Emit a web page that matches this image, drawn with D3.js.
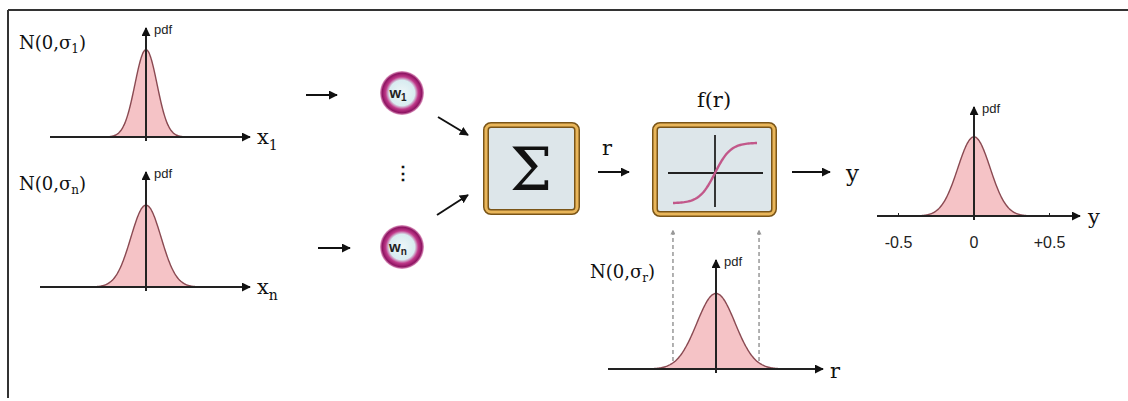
<!DOCTYPE html>
<html>
<head>
<meta charset="utf-8">
<script src="https://cdn.jsdelivr.net/npm/d3@7"></script>
<style>
  body { margin: 0; background: #fff; }
  svg { display: block; }
  .serif { font-family: "DejaVu Serif", "Liberation Serif", serif; fill: #111; }
  .sans { font-family: "Liberation Sans", Arial, sans-serif; fill: #222; }
</style>
</head>
<body>
<div id="chart"></div>
<script>
// the four distributions, in the order: x1, xn, r, y
var plotNames = ["x1", "xn", "r", "y"];
var sigmas = [0.073, 0.10, 0.127, 0.107];
var peaks = [0.97, 0.91, 0.84, 0.88];
var axisLabels = ["x", "x", "r", "y"];
var axisSubs = ["1", "n", "", ""];
var distLabels = ["N(0,σ", "N(0,σ", "N(0,σ", ""];
var distSubs = ["1", "n", "r", ""];
var tickValues = [-0.5, 0, 0.5];
var tickLabels = ["-0.5", "0", "+0.5"];
var weightSubs = ["1", "n"];

(function() {
  var W = 1128, H = 401;
  var svg = d3.select('#chart').append('svg').attr('width', W).attr('height', H);

  var defs = svg.append('defs');
  defs.append('marker').attr('id', 'arr').attr('viewBox', '0 0 10 10').attr('refX', 9).attr('refY', 5)
    .attr('markerWidth', 9).attr('markerHeight', 9).attr('markerUnits', 'userSpaceOnUse').attr('orient', 'auto')
    .append('path').attr('d', 'M0,0L10,5L0,10z').attr('fill', '#111');
  defs.append('marker').attr('id', 'arrs').attr('viewBox', '0 0 10 10').attr('refX', 9).attr('refY', 5)
    .attr('markerWidth', 5).attr('markerHeight', 5).attr('markerUnits', 'userSpaceOnUse').attr('orient', 'auto')
    .append('path').attr('d', 'M0,0L10,5L0,10z').attr('fill', '#999');
  var rg = defs.append('radialGradient').attr('id', 'wgrad');
  rg.append('stop').attr('offset', '0%').attr('stop-color', '#eef6f8');
  rg.append('stop').attr('offset', '58%').attr('stop-color', '#d8ecf0');
  rg.append('stop').attr('offset', '74%').attr('stop-color', '#c03a8a');
  rg.append('stop').attr('offset', '90%').attr('stop-color', '#8e1462');
  rg.append('stop').attr('offset', '100%').attr('stop-color', '#e7a8cc');

  // frame
  svg.append('line').attr('x1', 8).attr('y1', 10).attr('x2', W).attr('y2', 10).attr('stroke', '#333').attr('stroke-width', 2);
  svg.append('line').attr('x1', 8).attr('y1', 10).attr('x2', 8).attr('y2', 398).attr('stroke', '#333').attr('stroke-width', 2);

  // layout of each small pdf plot: centre x, baseline, axis start/end, axis top, label positions
  var layout = [
    { cx: 146, base: 137, x0: 50, x1: 250, top: 28, lab: [257, 144], dl: [19, 49] },
    { cx: 146, base: 287, x0: 40, x1: 250, top: 172, lab: [257, 294], dl: [19, 190] },
    { cx: 716, base: 369, x0: 608, x1: 823, top: 260, lab: [830, 378], dl: [590, 278] },
    { cx: 974, base: 216, x0: 877, x1: 1080, top: 107, lab: [1088, 224], dl: [0, 0] }
  ];

  plotNames.forEach(function(name, i) {
    var L = layout[i];
    var x = d3.scaleLinear().domain([-0.5, 0.5]).range([L.cx - 75.5, L.cx + 75.5]);
    var y = d3.scaleLinear().domain([0, 1]).range([L.base, L.base - 90]);
    var s = sigmas[i];
    var pts = d3.range(-4 * s, 4 * s + 1e-9, s / 20).map(function(v) {
      return [v, peaks[i] * Math.exp(-v * v / (2 * s * s))];
    });
    var area = d3.area().x(function(d) { return x(d[0]); }).y0(y(0)).y1(function(d) { return y(d[1]); }).curve(d3.curveBasis);
    var line = d3.line().x(function(d) { return x(d[0]); }).y(function(d) { return y(d[1]); }).curve(d3.curveBasis);
    var g = svg.append('g');
    g.append('path').datum(pts).attr('d', area).attr('fill', '#f5c3c6');
    g.append('path').datum(pts).attr('d', line).attr('fill', 'none').attr('stroke', '#8a4a52').attr('stroke-width', 1.4);
    g.append('line').attr('x1', L.x0).attr('y1', L.base).attr('x2', L.x1).attr('y2', L.base)
      .attr('stroke', '#222').attr('stroke-width', 2).attr('marker-end', 'url(#arr)');
    g.append('line').attr('x1', x(0)).attr('y1', L.base + 4).attr('x2', x(0)).attr('y2', L.top)
      .attr('stroke', '#222').attr('stroke-width', 2).attr('marker-end', 'url(#arr)');
    g.append('text').attr('class', 'sans').attr('x', x(0) + 8).attr('y', L.top + 6).attr('font-size', 13).text('pdf');
    var t = g.append('text').attr('class', 'serif').attr('x', L.lab[0]).attr('y', L.lab[1]).attr('font-size', 21).text(axisLabels[i]);
    if (axisSubs[i]) t.append('tspan').attr('dy', 6).attr('font-size', 14).text(axisSubs[i]);
    if (distLabels[i]) {
      var d = g.append('text').attr('class', 'serif').attr('x', L.dl[0]).attr('y', L.dl[1]).attr('font-size', 18).text(distLabels[i]);
      d.append('tspan').attr('dy', 4).attr('font-size', 12).text(distSubs[i]);
      d.append('tspan').attr('dy', -4).text(')');
    }
    if (name === 'y') {
      g.selectAll('.tk').data(tickValues.filter(function(v) { return v !== 0; })).enter().append('line')
        .attr('x1', function(v) { return x(v); }).attr('x2', function(v) { return x(v); })
        .attr('y1', L.base).attr('y2', L.base - 3).attr('stroke', '#222');
      g.selectAll('.tl').data(tickValues).enter().append('text').attr('class', 'sans')
        .attr('x', function(v) { return x(v); }).attr('y', L.base + 32).attr('font-size', 16)
        .attr('text-anchor', 'middle').text(function(v, k) { return tickLabels[k]; });
    }
    if (name === 'r') {
      // dashed guides up to the f(r) box
      [-0.285, 0.285].forEach(function(v) {
        g.append('line').attr('x1', x(v)).attr('x2', x(v)).attr('y1', L.base - 8).attr('y2', 230)
          .attr('stroke', '#888').attr('stroke-width', 1.3).attr('stroke-dasharray', '4,3').attr('marker-end', 'url(#arrs)');
      });
    }
  });

  function arrow(a, b, c, d) {
    svg.append('line').attr('x1', a).attr('y1', b).attr('x2', c).attr('y2', d)
      .attr('stroke', '#111').attr('stroke-width', 2).attr('marker-end', 'url(#arr)');
  }
  arrow(306, 95, 337, 95);
  arrow(318, 248, 350, 248);
  arrow(438, 117, 468, 135);
  arrow(437, 215, 468, 195);
  arrow(598, 172, 629, 172);
  arrow(792, 172, 830, 172);

  // weight nodes
  var wy = [93, 247];
  weightSubs.forEach(function(sub, i) {
    svg.append('circle').attr('cx', 402).attr('cy', wy[i]).attr('r', 22).attr('fill', 'url(#wgrad)');
    var t = svg.append('text').attr('class', 'sans').attr('x', 398).attr('y', wy[i] + 5).attr('font-size', 15)
      .attr('font-weight', 'bold').attr('text-anchor', 'middle').attr('fill', '#333').text('w');
    t.append('tspan').attr('dy', 3).attr('font-size', 10).text(sub);
  });
  svg.append('text').attr('class', 'serif').attr('x', 403).attr('y', 179).attr('font-size', 18)
    .attr('text-anchor', 'middle').attr('font-weight', 'bold').text('⋮');

  // boxes
  function box(x0, y0, w, h) {
    svg.append('rect').attr('x', x0).attr('y', y0).attr('width', w).attr('height', h).attr('rx', 5)
      .attr('fill', '#dde6ea').attr('stroke', '#7a5518').attr('stroke-width', 6);
    svg.append('rect').attr('x', x0).attr('y', y0).attr('width', w).attr('height', h).attr('rx', 5)
      .attr('fill', 'none').attr('stroke', '#e9b65a').attr('stroke-width', 3);
  }
  box(486, 125, 91, 87);
  svg.append('text').attr('class', 'serif').attr('x', 531).attr('y', 190).attr('font-size', 60)
    .attr('text-anchor', 'middle').text('Σ');
  svg.append('text').attr('class', 'serif').attr('x', 607).attr('y', 155).attr('font-size', 21)
    .attr('text-anchor', 'middle').text('r');

  box(655, 125, 119, 89);
  svg.append('text').attr('class', 'serif').attr('x', 714).attr('y', 107).attr('font-size', 21)
    .attr('text-anchor', 'middle').text('f(r)');
  var fx = d3.scaleLinear().domain([-3, 3]).range([673, 757]);
  var fy = d3.scaleLinear().domain([-1, 1]).range([203, 143]);
  svg.append('line').attr('x1', 668).attr('x2', 763).attr('y1', fy(0)).attr('y2', fy(0)).attr('stroke', '#222').attr('stroke-width', 1.8);
  svg.append('line').attr('x1', fx(0)).attr('x2', fx(0)).attr('y1', 135).attr('y2', 207).attr('stroke', '#222').attr('stroke-width', 1.8);
  var sig = d3.range(-3, 3.01, 0.1).map(function(v) { return [v, Math.tanh(v * 0.9) / Math.tanh(2.7)]; });
  svg.append('path').datum(sig).attr('d', d3.line().x(function(d) { return fx(d[0]); }).y(function(d) { return fy(d[1]); }))
    .attr('fill', 'none').attr('stroke', '#c2588a').attr('stroke-width', 2.4);

  svg.append('text').attr('class', 'serif').attr('x', 846).attr('y', 181).attr('font-size', 23).text('y');
})();
</script>
</body>
</html>
